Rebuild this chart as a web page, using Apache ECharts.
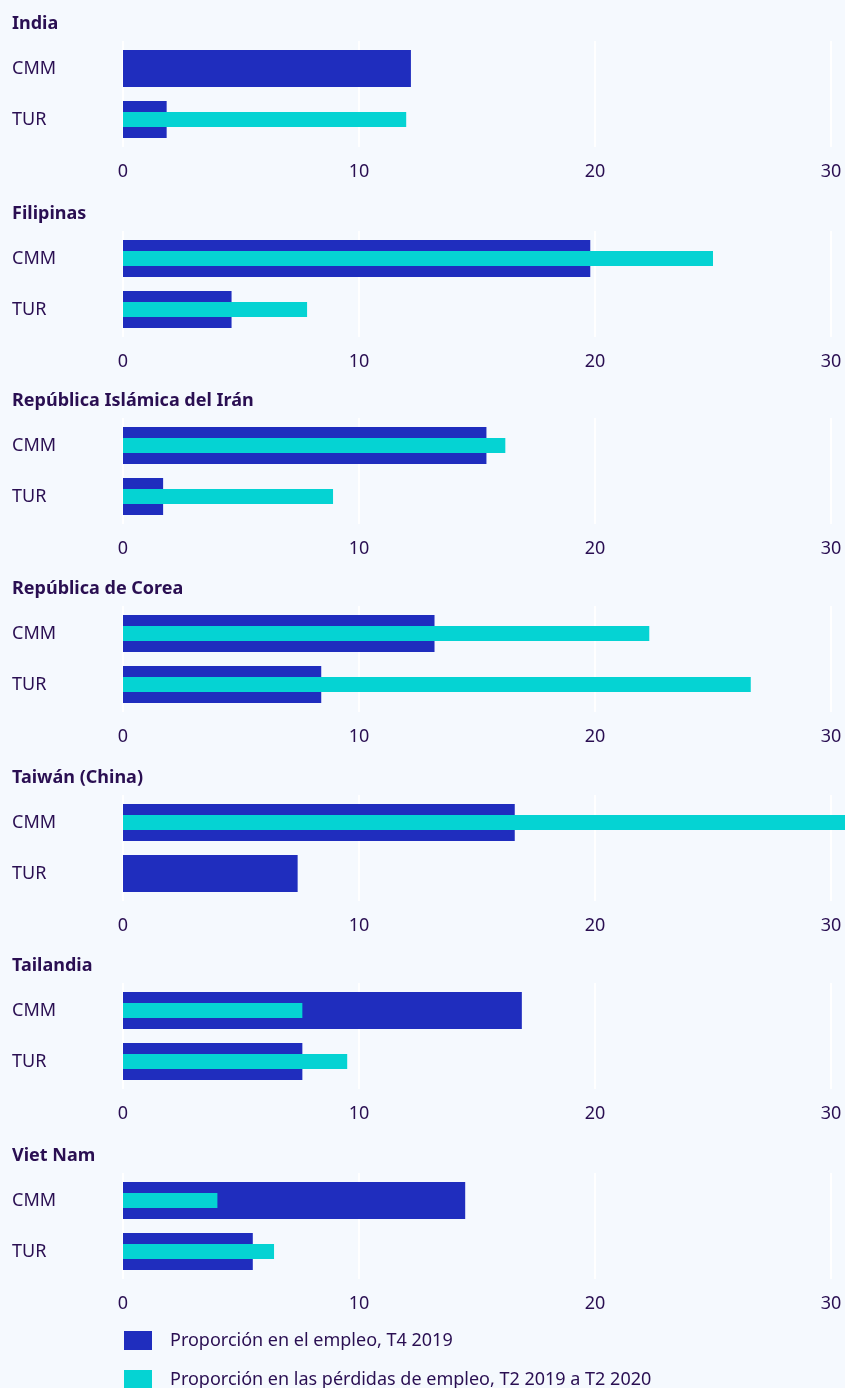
<!DOCTYPE html>
<html>
<head>
<meta charset="utf-8">
<script src="https://cdn.jsdelivr.net/npm/echarts@6/dist/echarts.min.js"></script>
<style>
html,body{margin:0;padding:0;background:#f5f9fe;}
#chart{width:845px;height:1388px;}
</style>
</head>
<body>
<div id="chart"></div>
<script>
// ---- data ----
const panels = ["India", "Filipinas", "República Islámica del Irán", "República de Corea", "Taiwán (China)", "Tailandia", "Viet Nam"];
const categories = ["CMM", "TUR"];
const seriesNames = ["Proporción en el empleo, T4 2019", "Proporción en las pérdidas de empleo, T2 2019 a T2 2020"];
// share in employment, Q4 2019: [CMM, TUR] per panel
const employment = [
  [12.2, 1.85],
  [19.8, 4.6],
  [15.4, 1.7],
  [13.2, 8.4],
  [16.6, 7.4],
  [16.9, 7.6],
  [14.5, 5.5]
];
// share in job losses, Q2 2019 to Q2 2020: [CMM, TUR] per panel
const losses = [
  [null, 12.0],
  [25.0, 7.8],
  [16.2, 8.9],
  [22.3, 26.6],
  [30.6, null],
  [7.6, 9.5],
  [4.0, 6.4]
];
const xTicks = [0, 10, 20, 30];

// ---- layout ----
const gridTops = [41, 231, 418, 606, 795, 983, 1173];
const gridH = 106;
const textColor = '#2a0f52';
const font = 'Noto Sans';
const darkBlue = '#1f2dbe';
const cyan = '#05d3d3';

const grid = [], xAxis = [], yAxis = [], series = [], title = [];
const n = panels.length;
panels.forEach((name, i) => {
  const top = gridTops[i];
  // bar grid (rows 51px apart)
  grid.push({left: 123, right: 14, top: top + 2, height: gridH - 4});
  title.push({
    text: name, left: 12, top: top - 29, padding: 0,
    textStyle: {fontFamily: font, fontSize: 18, fontWeight: 'bold', color: textColor, lineHeight: 24}
  });
  xAxis.push({
    type: 'value', gridIndex: i, min: xTicks[0], max: xTicks[xTicks.length - 1], interval: 10,
    axisLine: {show: false}, axisTick: {show: false},
    splitLine: {show: false},
    axisLabel: {margin: 18, fontFamily: font, fontSize: 18, color: textColor}
  });
  yAxis.push({
    type: 'category', gridIndex: i, data: categories, inverse: true,
    axisLine: {show: false}, axisTick: {show: false},
    axisLabel: {align: 'left', margin: 111, fontFamily: font, fontSize: 18, color: textColor}
  });
  yAxis.push({
    type: 'category', gridIndex: i, data: categories, inverse: true, show: false
  });
  series.push({
    name: seriesNames[0], type: 'bar', xAxisIndex: i, yAxisIndex: 2 * i,
    data: employment[i], barWidth: 37, itemStyle: {color: darkBlue}, silent: true, clip: false, z: 2
  });
  series.push({
    name: seriesNames[1], type: 'bar', xAxisIndex: i, yAxisIndex: 2 * i + 1,
    data: losses[i], barWidth: 15, itemStyle: {color: cyan}, silent: true, clip: false, z: 3
  });
});
// background grids carrying the vertical gridlines
panels.forEach((name, i) => {
  const top = gridTops[i];
  grid.push({left: 123, right: 14, top: top, height: gridH});
  xAxis.push({
    type: 'value', gridIndex: n + i, min: xTicks[0], max: xTicks[xTicks.length - 1], interval: 10,
    axisLine: {show: false}, axisTick: {show: false}, axisLabel: {show: false},
    splitLine: {show: true, lineStyle: {color: '#ffffff', width: 2}}
  });
  yAxis.push({type: 'category', gridIndex: n + i, data: categories, show: false});
});

const legendBase = {
  orient: 'vertical', left: 124, padding: 0,
  itemWidth: 28, itemHeight: 19,
  icon: 'rect', selectedMode: false,
  textStyle: {fontFamily: font, fontSize: 18, color: textColor, padding: [0, 0, 0, 13]}
};

const chart = echarts.init(document.getElementById('chart'), null, {renderer: 'canvas'});
chart.setOption({
  backgroundColor: '#f5f9fe',
  animation: false,
  title: title,
  grid: grid,
  xAxis: xAxis,
  yAxis: yAxis,
  series: series,
  legend: [
    Object.assign({}, legendBase, {data: [seriesNames[0]], top: 1331}),
    Object.assign({}, legendBase, {data: [seriesNames[1]], top: 1370})
  ]
});
</script>
</body>
</html>
